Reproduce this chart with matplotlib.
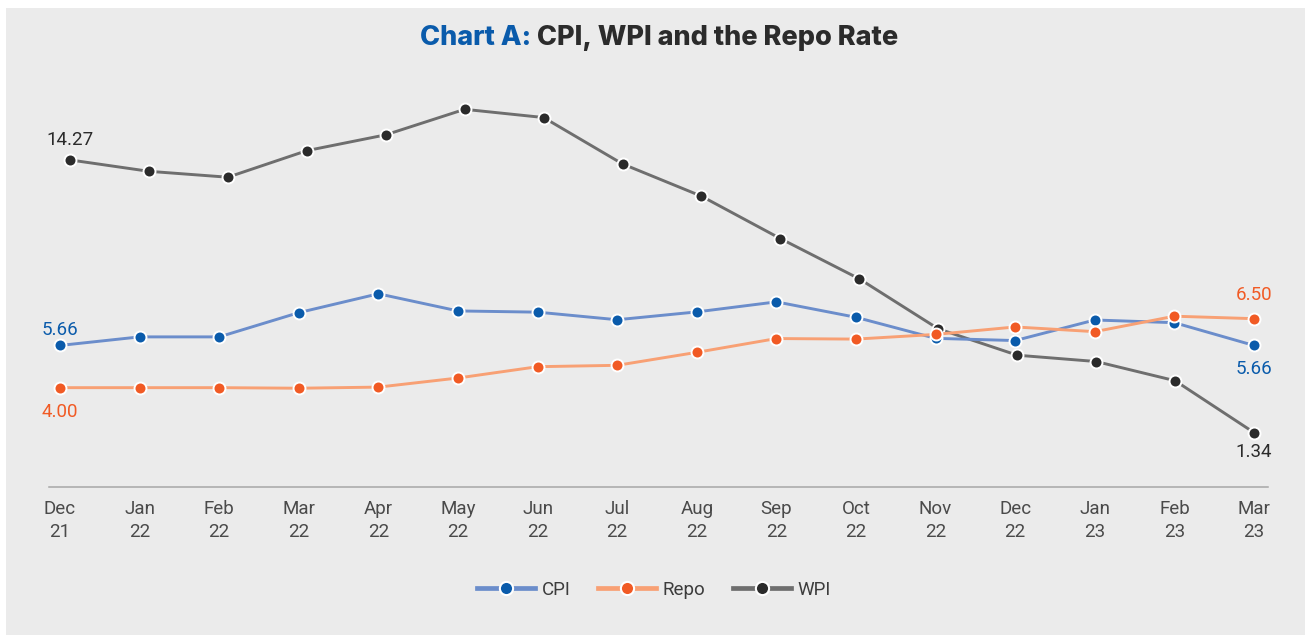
import matplotlib
matplotlib.use("Agg")
import matplotlib.pyplot as plt
from matplotlib.patches import Rectangle
from matplotlib.lines import Line2D

# ---------------- data ----------------
months = ["Dec\n21", "Jan\n22", "Feb\n22", "Mar\n22", "Apr\n22", "May\n22", "Jun\n22",
          "Jul\n22", "Aug\n22", "Sep\n22", "Oct\n22", "Nov\n22", "Dec\n22", "Jan\n23",
          "Feb\n23", "Mar\n23"]
cpi = [5.66, 6.01, 6.01, 7.00, 7.77, 7.07, 7.02, 6.71, 7.03, 7.44, 6.81, 5.95, 5.86, 6.70, 6.59, 5.66]
repo = [4.00, 4.00, 4.00, 3.98, 4.02, 4.35, 4.76, 4.81, 5.28, 5.78, 5.76, 5.93, 6.20, 6.03, 6.59, 6.50]
wpi = [14.27, 13.73, 13.45, 14.71, 15.46, 16.67, 16.28, 14.08, 12.55, 10.54, 8.63, 6.26, 5.01, 4.71, 3.80, 1.34]

# ---------------- style ----------------
BG = "#ebebeb"
CPI_LINE, CPI_MK = "#6b8dcb", "#0a5bab"
REPO_LINE, REPO_MK = "#f8a074", "#f15a24"
WPI_LINE, WPI_MK = "#6e6e6e", "#2b2b2b"
FONT = "Roboto"

plt.rcParams["font.family"] = [FONT, "DejaVu Sans"]

W, H = 1305, 635
fig = plt.figure(figsize=(W / 100, H / 100), dpi=100, facecolor="white")
fig.patches.append(Rectangle((6 / W, 0), 1, 1 - 8 / H, transform=fig.transFigure,
                             facecolor=BG, edgecolor="none", zorder=-10))

rect = [48.6 / W, 1 - 487 / H, (1268 - 48.6) / W, (487 - 80) / H]
ax_w = fig.add_axes(rect, label="wpi")
ax_c = fig.add_axes(rect, label="cpi")
ax_r = fig.add_axes(rect, label="repo")

x = list(range(len(months)))
common = dict(marker="o", markersize=8.6, markeredgecolor="white", markeredgewidth=1.4,
              linewidth=2.1, solid_capstyle="round")

ax_w.plot(x, wpi, color=WPI_LINE, markerfacecolor=WPI_MK, **common)
ax_c.plot(x, cpi, color=CPI_LINE, markerfacecolor=CPI_MK, **common)
ax_r.plot(x, repo, color=REPO_LINE, markerfacecolor=REPO_MK, **common)

ax_w.set_xlim(-0.271, 15.177)
ax_c.set_xlim(-0.143, 15.176)
ax_r.set_xlim(-0.143, 15.176)
ax_w.set_ylim(-1.24, 18.06)
ax_c.set_ylim(-0.12, 16.50)
ax_r.set_ylim(0.40, 15.15)

for a in (ax_w, ax_c, ax_r):
    a.patch.set_visible(False)
    for s in a.spines.values():
        s.set_visible(False)
    a.set_yticks([])
    a.set_xticks([])

ax_c.spines["bottom"].set_visible(True)
ax_c.spines["bottom"].set_color("#a6a6a6")
ax_c.spines["bottom"].set_linewidth(1.1)
ax_c.set_xticks(x)
ax_c.set_xticklabels(months, fontsize=13.5, color="#4a4a4a", linespacing=1.38)
ax_c.tick_params(axis="x", length=0, pad=9.0)

# data labels
LBL = 13.5
def label(ax, xi, yi, text, color, dy, va):
    ax.annotate(text, (xi, yi), xytext=(0, dy), textcoords="offset points",
                ha="center", va=va, fontsize=LBL, color=color)

label(ax_w, x[0], wpi[0], f"{wpi[0]:.2f}", WPI_MK, 10.8, "baseline")
label(ax_w, x[-1], wpi[-1], f"{wpi[-1]:.2f}", WPI_MK, -7.2, "top")
label(ax_c, x[0], cpi[0], f"{cpi[0]:.2f}", CPI_MK, 7.2, "baseline")
label(ax_c, x[-1], cpi[-1], f"{cpi[-1]:.2f}", CPI_MK, -10.8, "top")
label(ax_r, x[0], repo[0], f"{repo[0]:.2f}", REPO_MK, -10.8, "top")
label(ax_r, x[-1], repo[-1], f"{repo[-1]:.2f}", REPO_MK, 13.5, "baseline")

# title in two colours, centred
ty = 1 - 45 / H
TFONT = ["Inter", "DejaVu Sans"]
t1 = fig.text(0, ty, "Chart A:", fontsize=19.5, fontweight="heavy", color=CPI_MK,
              va="baseline", ha="left", family=TFONT)
t2 = fig.text(0, ty, " CPI, WPI and the Repo Rate", fontsize=19.5, fontweight="heavy",
              color="#2b2b2b", va="baseline", ha="left", family=TFONT)
fig.canvas.draw()
r = fig.canvas.get_renderer()
w1 = t1.get_window_extent(r).width
w2 = t2.get_window_extent(r).width
start = 659 - (w1 + w2) / 2
t1.set_x(start / W)
t2.set_x((start + w1) / W)

# legend
handles = [
    Line2D([], [], color=CPI_LINE, lw=3.4, marker="o", markersize=9.5, markerfacecolor=CPI_MK,
           markeredgecolor="white", markeredgewidth=1.5),
    Line2D([], [], color=REPO_LINE, lw=3.4, marker="o", markersize=9.5, markerfacecolor=REPO_MK,
           markeredgecolor="white", markeredgewidth=1.5),
    Line2D([], [], color=WPI_LINE, lw=3.4, marker="o", markersize=9.5, markerfacecolor=WPI_MK,
           markeredgecolor="white", markeredgewidth=1.5),
]
leg = fig.legend(handles, ["CPI", "Repo", "WPI"], loc="center", bbox_to_anchor=(654 / W, 1 - 590 / H),
                 ncol=3, frameon=False, fontsize=13.5, handlelength=3.1, handletextpad=0.35,
                 columnspacing=1.45, numpoints=1)
for t in leg.get_texts():
    t.set_color("#3c3c3c")

fig.savefig("out.png", dpi=100, facecolor="white")
